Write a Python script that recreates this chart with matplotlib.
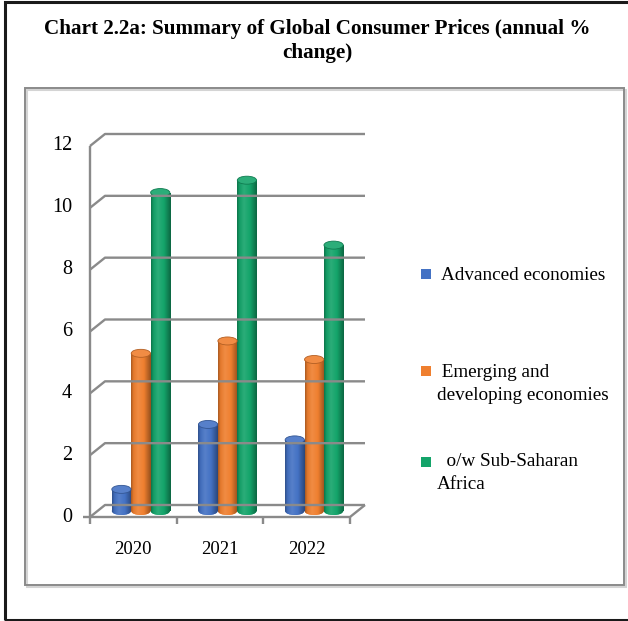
import matplotlib
matplotlib.use("Agg")
import matplotlib.pyplot as plt
import matplotlib.colors as mcolors
import matplotlib.transforms as mtransforms
from matplotlib.patches import Ellipse, Rectangle
import numpy as np

# --- data -------------------------------------------------------------------
years = ["2020", "2021", "2022"]
series = ["Advanced economies",
          " Emerging and\ndeveloping economies",
          "  o/w Sub-Saharan\nAfrica"]
advanced = [0.7, 2.8, 2.3]
emerging = [5.1, 5.5, 4.9]
sub_saharan = [10.3, 10.7, 8.6]
yticks = [0, 2, 4, 6, 8, 10, 12]

C_BLUE, C_ORANGE, C_GREEN = "#4472c4", "#ef7f2f", "#14a46a"
C_GRID = "#8a8a8a"
SERIF = "Liberation Serif"

W, H, DPI = 628, 621, 100
DX, DY = -15, -12          # depth offset back wall -> front plane, pixels


def shade(c, f):
    rgb = np.array(mcolors.to_rgb(c))
    return tuple(rgb * (1 + f)) if f < 0 else tuple(rgb + (1 - rgb) * f)


def px(x, y):
    """pixel (from top-left) -> figure fraction"""
    return x / W, 1 - y / H


fig = plt.figure(figsize=(W / DPI, H / DPI), dpi=DPI)

# back wall of the 3-D plot area
x0, y0 = px(105, 505)
ax = fig.add_axes([x0, y0, 260 / W, 371 / H])
ax.set_xlim(-0.5, 2.5)
ax.set_ylim(0, 12)
ax.set_autoscale_on(False)
ax.axis("off")


def offset(frac):
    return ax.transData + mtransforms.ScaledTranslation(
        DX * frac / DPI, DY * frac / DPI, fig.dpi_scale_trans)


front, mid = offset(1.0), offset(0.5)
inv = fig.transFigure.inverted()


def fig_xy(x, y, depth):
    p = ax.transData.transform((x, y)) + np.array([DX, DY]) * depth
    return inv.transform(p)


def fig_line(pts, **kw):
    pts = np.array(pts)
    fig.add_artist(plt.Line2D(pts[:, 0], pts[:, 1], transform=fig.transFigure,
                              color=C_GRID, lw=1.7, solid_capstyle="butt", **kw))


# --- frames -----------------------------------------------------------------
fig.add_artist(Rectangle(px(5, 620), 700 / W, 618 / H, transform=fig.transFigure,
                         fill=False, ec="#1a1a1a", lw=2.2))
fig.add_artist(Rectangle(px(27, 587), 599 / W, 497 / H, transform=fig.transFigure,
                         fill=False, ec="#d4d4d4", lw=1.5))
fig.add_artist(Rectangle(px(25, 585), 599 / W, 497 / H, transform=fig.transFigure,
                         fill=False, ec="#8a8a8a", lw=1.4))

fig.text(317 / W, 1 - 41 / H,
         "Chart 2.2a: Summary of Global Consumer Prices (annual %\nchange)",
         ha="center", va="center", family=SERIF, fontweight="bold",
         fontsize=15.2, linespacing=1.23)

# --- walls, floor and axes --------------------------------------------------
for v in yticks:
    fig_line([fig_xy(-0.5, v, 1), fig_xy(-0.5, v, 0), fig_xy(2.5, v, 0)])
    fx, fy = fig_xy(-0.5, v, 1)
    fig.text(fx - 18 / W, fy, str(v), ha="right", va="center",
             family=SERIF, fontsize=14.5)
fig_line([fig_xy(-0.5, 0, 1), fig_xy(-0.5, 12, 1)])
fig_line([fig_xy(-0.5, 0, 1) - np.array([7 / W, 0]), fig_xy(2.5, 0, 1),
          fig_xy(2.5, 0, 0)])
for b in np.arange(-0.5, 3, 1.0):
    bx, by = fig_xy(b, 0, 1)
    fig_line([(bx, by), (bx, by - 7 / H)])
for i, yr in enumerate(years):
    tx, ty = fig_xy(i, 0, 1)
    fig.text(tx, ty - 33 / H, yr, ha="center", va="center",
             family=SERIF, fontsize=13.5)

# --- cylinders --------------------------------------------------------------
bw, step = 0.222, 0.224
cap = 8 / 30.9   # cap ellipse height in value units
xs = np.arange(len(years))
grad = np.linspace(0, 1, 120)[None, :]

for k, (vals, c) in enumerate(zip([advanced, emerging, sub_saharan],
                                  [C_BLUE, C_ORANGE, C_GREEN])):
    cmap = mcolors.LinearSegmentedColormap.from_list(
        "cyl", [(0, shade(c, -0.3)), (0.12, shade(c, -0.05)),
                (0.35, shade(c, 0.1)), (0.65, c), (1, shade(c, -0.38))])
    bars = ax.bar(xs + (k - 1) * step, vals, bw, color=c, zorder=3,
                  transform=mid, clip_on=False)
    for bar in bars:
        xl, h = bar.get_x(), bar.get_height()
        xc = xl + bw / 2
        base = Ellipse((xc, 0), bw, cap, transform=mid, fc=c, ec="none",
                       zorder=2.9, clip_on=False)
        ax.add_patch(base)
        for patch, ext in [(base, (xl, xl + bw, -cap / 2, cap / 2)),
                           (bar, (xl, xl + bw, 0, h))]:
            im = ax.imshow(grad, cmap=cmap, extent=ext, aspect="auto",
                           transform=mid, interpolation="bilinear",
                           zorder=patch.get_zorder() + 0.01)
            im.set_clip_box(fig.bbox)
            im.set_clip_path(patch)
        ax.add_patch(Ellipse((xc, h), bw, cap, transform=mid,
                             fc=shade(c, 0.1), ec=shade(c, -0.25), lw=0.6,
                             zorder=3.5, clip_on=False))

# --- legend -----------------------------------------------------------------
legend_rows = [(C_BLUE, 274, 275, 441), (C_ORANGE, 371, 384, 437),
               (C_GREEN, 462, 473, 437)]
for (c, sq_y, txt_y, txt_x), label in zip(legend_rows, series):
    fig.add_artist(Rectangle(px(421, sq_y + 5), 10 / W, 10 / H,
                             transform=fig.transFigure, fc=c, ec="none"))
    fig.text(txt_x / W, 1 - txt_y / H, label, ha="left", va="center",
             family=SERIF, fontsize=13.8, linespacing=1.5)

fig.savefig("out.png", dpi=DPI)
